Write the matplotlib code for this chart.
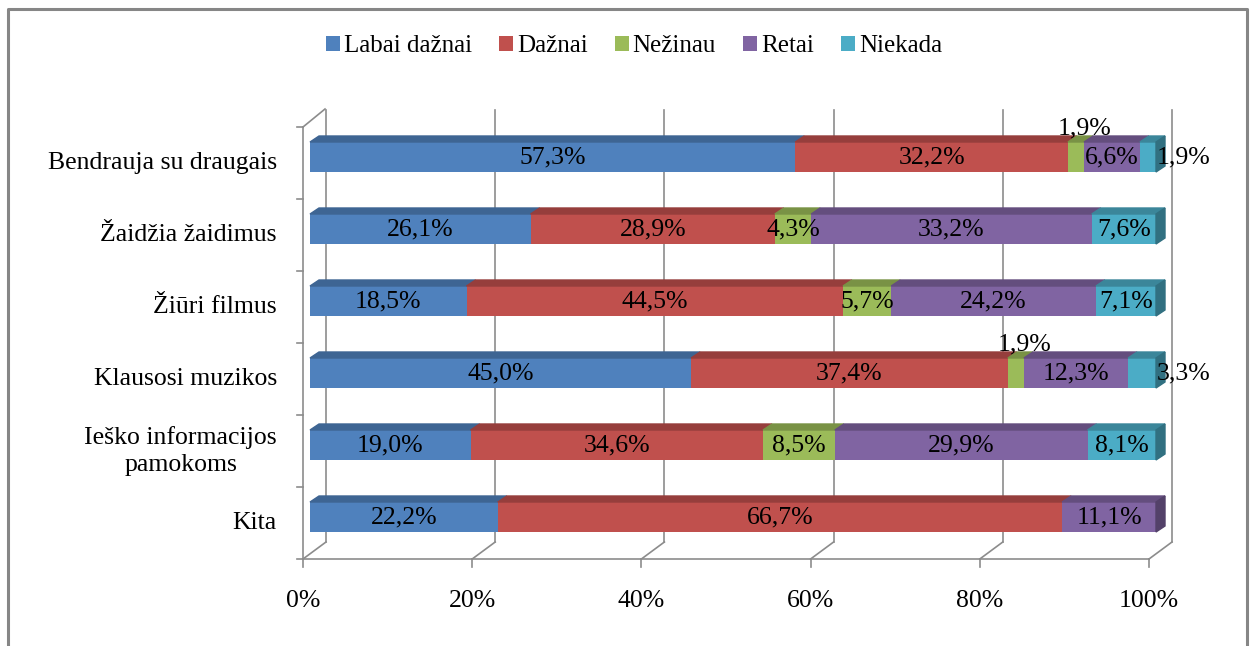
import numpy as np
import matplotlib
matplotlib.use("Agg")
import matplotlib.pyplot as plt
from matplotlib.patches import Polygon, Patch
from matplotlib.lines import Line2D
from matplotlib.colors import to_rgb

plt.rcParams['font.family'] = ['Liberation Serif', 'DejaVu Serif']

categories = ['Bendrauja su draugais', 'Žaidžia žaidimus', 'Žiūri filmus',
              'Klausosi muzikos', 'Ieško informacijos\npamokoms', 'Kita']
series = ['Labai dažnai', 'Dažnai', 'Nežinau', 'Retai', 'Niekada']
labai_daznai = [57.3, 26.1, 18.5, 45.0, 19.0, 22.2]
daznai = [32.2, 28.9, 44.5, 37.4, 34.6, 66.7]
nezinau = [1.9, 4.3, 5.7, 1.9, 8.5, 0.0]
retai = [6.6, 33.2, 24.2, 12.3, 29.9, 11.1]
niekada = [1.9, 7.6, 7.1, 3.3, 8.1, 0.0]
colors = ['#4F81BD', '#C0504D', '#9BBB59', '#8064A2', '#4BACC6']
xticks = [0, 20, 40, 60, 80, 100]

values = np.array([labai_daznai, daznai, nezinau, retai, niekada])
shares = values / values.sum(axis=0) * 100   # 100% stacked

FS = 18.5
W, H = 1253, 646
fig = plt.figure(figsize=(W / 100, H / 100), dpi=100)
ax = fig.add_axes([303 / W, 87 / H, 846 / W, 432 / H])
ax.set_xlim(0, 100)
ax.set_ylim(0, 6)
ax.axis('off')

PXX = 846 / 100
PXY = 432 / 6
def dx(p):
    return p / PXX
def dy(p):
    return p / PXY

def darker(c, f=0.78):
    return tuple(v * f for v in to_rgb(c))

grid_c = '#8c8c8c'
BX, BY = dx(23), dy(17)   # depth of the walls

# back wall gridlines, floor
for t in xticks:
    ax.plot([t + BX, t + BX], [BY, 6 + BY], color=grid_c, lw=1.2, clip_on=False, zorder=1)
    ax.plot([t, t + BX], [0, BY], color=grid_c, lw=1.2, clip_on=False, zorder=1)
    ax.plot([t, t], [0, dy(-8)], color=grid_c, lw=1.2, clip_on=False, zorder=1)
    ax.text(t, dy(-42), f'{t}%', ha='center', va='center', fontsize=FS)
ax.plot([0, 100], [0, 0], color=grid_c, lw=1.2, clip_on=False, zorder=1)
# left wall
ax.plot([0, 0], [0, 6], color=grid_c, lw=1.2, clip_on=False, zorder=1)
ax.plot([0, dx(22)], [6, 6 + dy(18)], color=grid_c, lw=1.2, clip_on=False, zorder=1)
for k in range(7):
    ax.plot([dx(-6), 0], [k, k], color=grid_c, lw=1.2, clip_on=False, zorder=1)

ncat = len(categories)
ypos = np.arange(ncat)[::-1] + 0.5
fx, fy = dx(7), dy(6)          # bar front offset
tx, ty = dx(9), dy(6)          # bar depth
bh = dy(30)

for i, name in enumerate(categories):
    ax.text(dx(-26), ypos[i], name, ha='right', va='center', fontsize=FS,
            multialignment='center', linespacing=1.35)

left = np.zeros(ncat)
for s in range(len(series)):
    w = shares[s]
    yc = ypos + fy
    ax.barh(yc, w, left=left + fx, height=bh, color=colors[s], zorder=3, clip_on=False)
    for i in range(ncat):
        if w[i] <= 0:
            continue
        x0 = left[i] + fx
        x1 = x0 + w[i]
        yt = yc[i] + bh / 2
        yb = yc[i] - bh / 2
        # top face
        ax.add_patch(Polygon([(x0, yt), (x1, yt), (x1 + tx, yt + ty), (x0 + tx, yt + ty)],
                             closed=True, color=darker(colors[s]), zorder=3, clip_on=False))
        last = values[s + 1:, i].sum() == 0
        if last:
            # right side face
            ax.add_patch(Polygon([(x1, yb), (x1, yt), (x1 + tx, yt + ty), (x1 + tx, yb + ty)],
                                 closed=True, color=darker(colors[s], 0.65), zorder=3,
                                 clip_on=False))
        lab = f'{values[s, i]:.1f}%'.replace('.', ',')
        xm = x0 + w[i] / 2
        if values[s, i] < 4 and last:
            ax.text(x1 + dx(1), yc[i], lab, ha='left', va='center', fontsize=FS, zorder=5)
        elif values[s, i] < 4:
            ax.annotate(lab, (xm, yt), xytext=(6, 2), textcoords='offset points',
                        ha='center', va='bottom', fontsize=FS, zorder=5)
        else:
            ax.text(xm, yc[i], lab, ha='center', va='center', fontsize=FS, zorder=5)
    left = left + w

handles = [Patch(facecolor=c, edgecolor='none') for c in colors]
fig.legend(handles, series, loc='center', bbox_to_anchor=(634 / W, 1 - 46 / H), ncol=5,
           frameon=False, fontsize=18, handlelength=0.55, handleheight=0.55,
           handletextpad=0.15, columnspacing=1.1)

# outer frame
fig.add_artist(Line2D([8 / W, 8 / W, 1247 / W, 1247 / W], [0, 1 - 9 / H, 1 - 9 / H, 0],
                      color='#868686', lw=2.2))

fig.savefig('out.png', dpi=100)
